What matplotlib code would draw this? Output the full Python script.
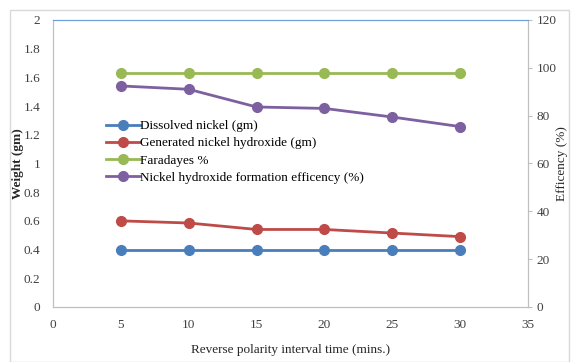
import matplotlib
matplotlib.use('Agg')
import matplotlib.pyplot as plt
from matplotlib.patches import Rectangle

# data
interval = [5, 10, 15, 20, 25, 30]
dissolved = [0.40, 0.40, 0.40, 0.40, 0.40, 0.40]
generated = [0.60, 0.585, 0.54, 0.54, 0.515, 0.49]
faraday = [98, 98, 98, 98, 98, 98]
formation = [92.4, 91.0, 83.6, 83.0, 79.4, 75.4]

x_ticks = [0, 5, 10, 15, 20, 25, 30, 35]
left_ticks = [0, 0.2, 0.4, 0.6, 0.8, 1, 1.2, 1.4, 1.6, 1.8, 2]
right_ticks = [0, 20, 40, 60, 80, 100, 120]

plt.rcParams['font.family'] = ['Liberation Serif', 'DejaVu Serif']

fig = plt.figure(figsize=(5.71, 3.62), dpi=100)
fig.patches.append(Rectangle((0.017, 0.0), 0.98, 0.972, transform=fig.transFigure,
                             fill=False, edgecolor='#d9d9d9', lw=1.0))

ax = fig.add_axes([0.0928, 0.152, 0.832, 0.793])
ax2 = ax.twinx()

c_blue, c_red, c_green, c_purple = '#4a7ebb', '#be4b48', '#98b954', '#7d60a0'
mk = dict(marker='o', markersize=7, lw=2)

l1, = ax.plot(interval, dissolved, color=c_blue, label='Dissolved nickel (gm)', **mk)
l2, = ax.plot(interval, generated, color=c_red, label='Generated nickel hydroxide (gm)', **mk)
l3, = ax2.plot(interval, faraday, color=c_green, label='Faradayes %', **mk)
l4, = ax2.plot(interval, formation, color=c_purple,
               label='Nickel hydroxide formation efficency (%)', **mk)

ax.set_xlim(0, 35)
ax.set_ylim(0, 2)
ax2.set_ylim(0, 120)
ax.set_xticks(x_ticks)
ax.set_yticks(left_ticks)
ax.set_yticklabels([f'{v:g}' for v in left_ticks])
ax2.set_yticks(right_ticks)

for a in (ax, ax2):
    for s in a.spines.values():
        s.set_color('#bfbfbf')
    a.spines['top'].set_color('#6f9fd8')
    a.tick_params(labelsize=9.5, colors='#404040', length=3, width=0.8)
    a.tick_params(axis='both', color='#bfbfbf')
ax.tick_params(axis='y', length=0, pad=9)
ax.tick_params(axis='x', length=0, pad=9)
ax2.tick_params(axis='y', pad=3)

ax.set_xlabel('Reverse polarity interval time (mins.)', fontsize=9.5, color='#262626',
              labelpad=9)
ax.set_ylabel('Weight (gm)', fontsize=9.5, fontweight='bold', color='#262626')
ax.yaxis.set_label_coords(-0.061, 0.5)
ax2.set_ylabel('Efficency (%)', fontsize=9.5, color='#262626')
ax2.yaxis.set_label_coords(1.058, 0.5)

ax.legend(handles=[l1, l2, l3, l4], loc='upper left', bbox_to_anchor=(0.1, 0.67),
          frameon=False, fontsize=9.5, handlelength=2.6, handletextpad=0.0,
          labelspacing=0.38, borderaxespad=0)

plt.savefig('out.png', dpi=100)
